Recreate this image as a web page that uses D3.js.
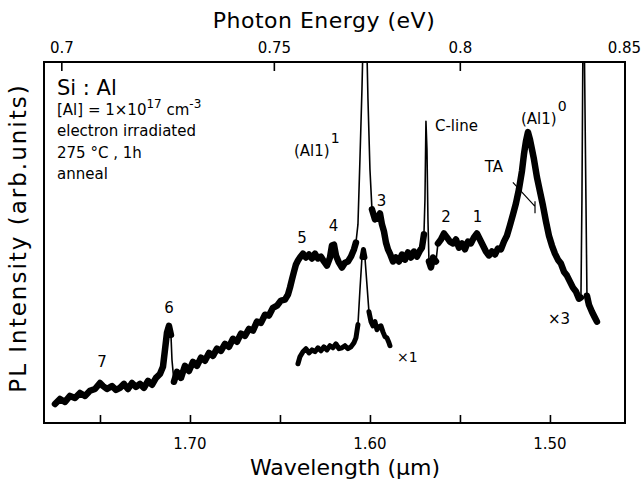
<!DOCTYPE html>
<html>
<head>
<meta charset="utf-8">
<script src="https://cdn.jsdelivr.net/npm/d3@7"></script>
<style>
  body { margin: 0; background: #fff; }
  svg { display: block; }
  text { font-family: "DejaVu Sans", sans-serif; fill: #000; }
</style>
</head>
<body>
<svg id="chart" width="644" height="481"></svg>
<script>
// PL spectrum of Si:Al, main trace (x3 gain)
const wavelengthMain = [
  1.77500, 1.77222, 1.76944, 1.76667, 1.76389, 1.76111, 1.75833, 1.75556, 1.75278, 1.75000,
  1.74833, 1.74611, 1.74333, 1.74111, 1.73889, 1.73667, 1.73444, 1.73222, 1.73000, 1.72778,
  1.72556, 1.72333, 1.72111, 1.71889, 1.71667, 1.71500, 1.71389, 1.71278, 1.71167, 1.71056,
  1.71000, 1.70889, 1.70722, 1.70500, 1.70278, 1.70056, 1.69833, 1.69611, 1.69389, 1.69167,
  1.68944, 1.68722, 1.68500, 1.68278, 1.68056, 1.67833, 1.67611, 1.67389, 1.67167, 1.66944,
  1.66722, 1.66500, 1.66278, 1.66056, 1.65833, 1.65611, 1.65389, 1.65167, 1.64944, 1.64722,
  1.64556, 1.64444, 1.64333, 1.64222, 1.64111, 1.64000, 1.63889, 1.63722, 1.63556, 1.63389,
  1.63222, 1.63056, 1.62889, 1.62722, 1.62556, 1.62389, 1.62222, 1.62111, 1.62000, 1.61889,
  1.61722, 1.61556, 1.61389, 1.61222, 1.61056, 1.60889, 1.60778, 1.60667, 1.60556, 1.60444,
  1.60278, 1.60111, 1.60000, 1.59889, 1.59722, 1.59556, 1.59444, 1.59333, 1.59222, 1.59111,
  1.59000, 1.58889, 1.58722, 1.58556, 1.58389, 1.58222, 1.58056, 1.57889, 1.57722, 1.57556,
  1.57389, 1.57222, 1.57111, 1.57000, 1.56944, 1.56889, 1.56833, 1.56778, 1.56722, 1.56611,
  1.56500, 1.56333, 1.56222, 1.56056, 1.55889, 1.55722, 1.55556, 1.55389, 1.55222, 1.55056,
  1.54889, 1.54722, 1.54556, 1.54389, 1.54222, 1.54056, 1.53889, 1.53722, 1.53556, 1.53389,
  1.53222, 1.53056, 1.52889, 1.52722, 1.52556, 1.52389, 1.52222, 1.52056, 1.51889, 1.51722,
  1.51556, 1.51444, 1.51333, 1.51222, 1.51111, 1.51000, 1.50889, 1.50722, 1.50556, 1.50389,
  1.50222, 1.50056, 1.49889, 1.49722, 1.49556, 1.49389, 1.49222, 1.49056, 1.48889, 1.48722,
  1.48556, 1.48389, 1.48278, 1.48222, 1.48139, 1.48000, 1.47944, 1.47833, 1.47667, 1.47500,
  1.47389
];
const intensityMain = [
  6.3, 8.0, 7.0, 9.0, 8.3, 10.0, 9.0, 10.7, 11.3, 13.3,
  12.3, 11.3, 12.3, 11.0, 11.7, 13.0, 11.3, 13.3, 12.0, 13.0,
  11.7, 14.0, 12.7, 15.0, 16.3, 18.7, 24.3, 30.0, 32.3, 29.3,
  21.0, 13.7, 17.0, 15.0, 19.0, 17.3, 20.3, 19.0, 21.7, 20.7,
  23.3, 22.3, 24.7, 24.0, 26.3, 25.3, 28.0, 27.0, 29.7, 29.0,
  31.3, 30.7, 33.7, 33.3, 36.0, 35.7, 38.3, 39.0, 40.7, 41.0,
  42.7, 45.0, 47.7, 50.3, 52.7, 54.0, 55.0, 56.3, 55.0, 56.0,
  54.7, 56.3, 54.7, 55.3, 53.7, 52.3, 55.0, 59.0, 59.3, 55.7,
  53.3, 51.7, 53.3, 53.7, 55.3, 57.7, 60.0, 66.0, 87.7, 111.0,
  154.3, 107.7, 84.3, 71.0, 67.7, 68.3, 69.7, 66.0, 63.7, 60.0,
  57.7, 56.3, 53.7, 55.0, 53.7, 56.0, 54.3, 56.7, 55.0, 57.0,
  55.3, 57.3, 58.3, 62.7, 74.3, 100.3, 91.0, 67.7, 53.7, 51.7,
  55.0, 53.7, 59.7, 61.0, 63.0, 61.7, 60.3, 59.7, 61.0, 58.3,
  59.7, 57.7, 60.3, 59.7, 61.7, 63.0, 61.0, 59.0, 57.0, 55.7,
  57.0, 56.0, 58.0, 57.7, 60.3, 62.3, 65.7, 69.3, 73.0, 77.7,
  83.7, 89.3, 93.7, 96.7, 94.3, 91.0, 87.7, 81.7, 77.0, 72.3,
  67.0, 62.3, 59.0, 56.3, 54.3, 53.0, 50.3, 49.0, 47.0, 45.0,
  43.7, 41.3, 41.7, 74.3, 154.3, 74.3, 42.3, 39.3, 37.0, 35.0,
  33.7
];

// Same region recorded at x1 gain
const wavelengthX1 = [
  1.64000, 1.63889, 1.63722, 1.63556, 1.63389, 1.63222, 1.63056, 1.62889, 1.62722, 1.62556,
  1.62389, 1.62222, 1.62056, 1.61889, 1.61722, 1.61556, 1.61389, 1.61222, 1.61056, 1.60889,
  1.60778, 1.60667, 1.60556, 1.60444, 1.60361, 1.60278, 1.60167, 1.60056, 1.59944, 1.59833,
  1.59722, 1.59611, 1.59500, 1.59389, 1.59278, 1.59167, 1.59056, 1.58944, 1.58889
];
const intensityX1 = [
  19.7, 22.0, 23.7, 24.7, 23.3, 24.3, 23.7, 25.0, 24.0, 25.3,
  24.3, 25.7, 25.0, 26.3, 24.7, 25.0, 25.7, 24.7, 25.3, 26.7,
  28.3, 32.7, 44.3, 55.0, 57.7, 55.0, 46.0, 37.0, 33.7, 32.3,
  33.7, 31.0, 32.0, 32.3, 30.3, 28.7, 28.3, 26.7, 25.7
];

// Axis ticks
const wavelengthTicks = [1.75, 1.70, 1.65, 1.60, 1.55, 1.50];
const wavelengthLabels = [1.70, 1.60, 1.50];
const energyTicks = [0.70, 0.75, 0.80];
const energyLabels = [0.70, 0.75, 0.80, 0.85];

// Feature labels: text, wavelength, intensity
const featureLabels = [
  ["7", 1.7489, 18.7], ["6", 1.7117, 36.7], ["5", 1.6378, 60.0], ["4", 1.6203, 63.7],
  ["3", 1.5936, 72.0], ["2", 1.5578, 66.7], ["1", 1.5403, 66.7], ["TA", 1.5311, 83.3]
];

const HC = 1.23984; // eV·µm

const svg = d3.select("#chart");
const m = { left: 44, right: 625, top: 62, bottom: 423 };

const x = d3.scaleLinear().domain([1.7811, 1.4583]).range([m.left, m.right]);
const y = d3.scaleLinear().domain([0, 120]).range([m.bottom, m.top]);

svg.append("defs").append("clipPath").attr("id", "plotclip")
  .append("rect").attr("x", m.left).attr("y", m.top)
  .attr("width", m.right - m.left).attr("height", m.bottom - m.top);

// Bottom axis (wavelength), ticks pointing inward
const xAxis = d3.axisBottom(x).tickValues(wavelengthTicks).tickSize(-8).tickFormat("");
const gx = svg.append("g").attr("transform", `translate(0,${m.bottom})`).call(xAxis);
gx.select(".domain").remove();
gx.selectAll(".tick line").attr("stroke", "#000").attr("stroke-width", 1.6);
svg.append("g").selectAll("text").data(wavelengthLabels).join("text")
  .attr("x", d => x(d)).attr("y", 449).attr("text-anchor", "middle")
  .attr("font-size", 15).text(d => d3.format(".2f")(d));

// Top axis (photon energy), placed through E = hc/λ
const gt = svg.append("g").attr("transform", `translate(0,${m.top})`);
gt.selectAll("line").data(energyTicks).join("line")
  .attr("x1", d => x(HC / d)).attr("x2", d => x(HC / d))
  .attr("y1", 0).attr("y2", 9).attr("stroke", "#000").attr("stroke-width", 1.6);
svg.append("g").selectAll("text").data(energyLabels).join("text")
  .attr("x", d => Math.min(x(HC / d), 625)).attr("y", 53).attr("text-anchor", "middle")
  .attr("font-size", 15).text(d => String(+d.toFixed(2)));

// Frame
svg.append("rect").attr("x", m.left).attr("y", m.top)
  .attr("width", m.right - m.left).attr("height", m.bottom - m.top)
  .attr("fill", "none").attr("stroke", "#000").attr("stroke-width", 2);

// Axis titles
svg.append("text").attr("x", 324).attr("y", 28).attr("text-anchor", "middle")
  .attr("font-size", 22).attr("letter-spacing", 0.5).text("Photon Energy (eV)");
svg.append("text").attr("x", 345).attr("y", 475).attr("text-anchor", "middle")
  .attr("font-size", 22).text("Wavelength (µm)");
svg.append("text").attr("transform", "translate(26,238) rotate(-90)")
  .attr("text-anchor", "middle").attr("font-size", 23).attr("letter-spacing", 2)
  .text("PL Intensity (arb.units)");

// Spectrum traces: noisy band drawn thick, steep peak flanks drawn thin
const plot = svg.append("g").attr("clip-path", "url(#plotclip)");
function drawTrace(wl, inten, thick, thin) {
  const pts = wl.map((w, i) => [x(w), y(inten[i])]);
  plot.append("path").attr("d", d3.line()(pts))
    .attr("fill", "none").attr("stroke", "#000").attr("stroke-width", thin)
    .attr("stroke-linejoin", "round");
  const runs = [];
  let run = [pts[0]];
  for (let i = 1; i < pts.length; i++) {
    const dx = Math.abs(pts[i][0] - pts[i - 1][0]);
    const dy = Math.abs(pts[i][1] - pts[i - 1][1]);
    if (dy / dx < 9) run.push(pts[i]);
    else { if (run.length > 1) runs.push(run); run = [pts[i]]; }
  }
  if (run.length > 1) runs.push(run);
  runs.forEach(r => plot.append("path").attr("d", d3.line()(r))
    .attr("fill", "none").attr("stroke", "#000").attr("stroke-width", thick)
    .attr("stroke-linejoin", "round").attr("stroke-linecap", "round"));
}
drawTrace(wavelengthMain, intensityMain, 6.5, 1.6);
drawTrace(wavelengthX1, intensityX1, 5, 1.6);

// Feature numbers
svg.append("g").selectAll("text").data(featureLabels).join("text")
  .attr("x", d => x(d[1])).attr("y", d => y(d[2])).attr("text-anchor", "middle")
  .attr("font-size", 15).text(d => d[0]);

// TA leader line
svg.append("path")
  .attr("d", `M${x(1.5206)},${y(80.0)}L${x(1.5083)},${y(72.0)}M${x(1.5083)},${y(73.7)}L${x(1.5083)},${y(69.7)}`)
  .attr("stroke", "#000").attr("stroke-width", 1.2).attr("fill", "none");

// Peak names
function supLabel(txt, sup, wl, inten) {
  const t = svg.append("text").attr("x", x(wl)).attr("y", y(inten)).attr("font-size", 15);
  t.append("tspan").text(txt);
  t.append("tspan").attr("dx", 1).attr("dy", -13).attr("font-size", 14).text(sup);
}
supLabel("(Al1)", "1", 1.6422, 88.7);
supLabel("(Al1)", "0", 1.5161, 99.3);
svg.append("text").attr("x", x(1.5639)).attr("y", y(97.0)).attr("font-size", 15).text("C-line");
svg.append("text").attr("x", x(1.5850)).attr("y", y(20.3)).attr("font-size", 14).text("×1");
svg.append("text").attr("x", x(1.5011)).attr("y", y(33.0)).attr("font-size", 15).text("×3");

// Sample description
const info = svg.append("g").attr("transform", "translate(57,0)");
info.append("text").attr("y", 95).attr("font-size", 21).text("Si : Al");
const conc = info.append("text").attr("y", 115).attr("font-size", 15);
conc.append("tspan").text("[Al] = 1×10");
conc.append("tspan").attr("dy", -7).attr("font-size", 12).text("17");
conc.append("tspan").attr("dy", 7).text(" cm");
conc.append("tspan").attr("dy", -7).attr("font-size", 12).text("-3");
info.append("text").attr("y", 136).attr("font-size", 15).text("electron irradiated");
info.append("text").attr("y", 158).attr("font-size", 15).text("275 °C , 1h");
info.append("text").attr("y", 179).attr("font-size", 15).text("anneal");
</script>
</body>
</html>
